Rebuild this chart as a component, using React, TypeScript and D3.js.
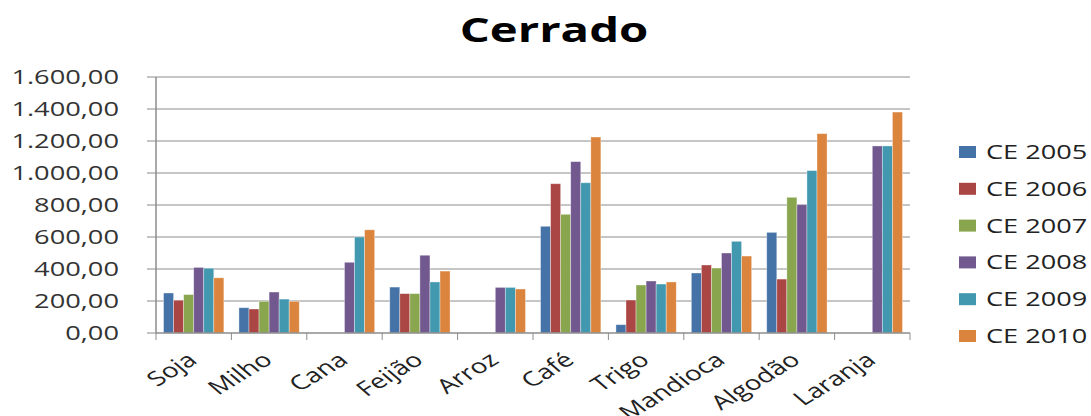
import React from "react";
import * as d3 from "d3";

// Crop categories along the x axis
const categories = ["Soja", "Milho", "Cana", "Feijão", "Arroz", "Café", "Trigo", "Mandioca", "Algodão", "Laranja"];

// One series per year (null = no value for that crop)
const seriesNames = ["CE 2005", "CE 2006", "CE 2007", "CE 2008", "CE 2009", "CE 2010"];
const ce2005 = [250, 158, null, 287, null, 667, 52, 375, 629, null];
const ce2006 = [205, 150, null, 246, null, 933, 206, 425, 337, null];
const ce2007 = [240, 198, null, 246, null, 742, 300, 406, 848, null];
const ce2008 = [410, 256, 442, 486, 285, 1071, 325, 500, 802, 1169];
const ce2009 = [405, 212, 600, 319, 285, 939, 306, 573, 1015, 1169];
const ce2010 = [345, 198, 645, 387, 275, 1225, 319, 481, 1246, 1381];
const seriesValues = [ce2005, ce2006, ce2007, ce2008, ce2009, ce2010];

const yTicks = [0, 200, 400, 600, 800, 1000, 1200, 1400, 1600];

const colors = ["#4572A7", "#AA4643", "#89A54E", "#71588F", "#4198AF", "#DB843D"];

const W = 1091;
const H = 416;
const plot = { left: 156, right: 910, top: 77, bottom: 333 };
const SX = 1.39; // horizontal text stretch
const FONT = "'Open Sans', sans-serif";

const fmt = (v: number) => {
  const s = v.toFixed(2).replace(".", ",");
  const [i, d] = s.split(",");
  return i.replace(/\B(?=(\d{3})+(?!\d))/g, ".") + "," + d;
};

export default function App() {
  const x0 = d3.scaleBand<string>().domain(categories).range([plot.left, plot.right]).padding(0);
  const bw = x0.bandwidth();
  const gap = bw * 1.5 / 7.5;
  const x1 = d3.scaleBand<string>().domain(seriesNames).range([gap / 2, bw - gap / 2]).padding(0);
  const y = d3.scaleLinear().domain([0, 1600]).range([plot.bottom, plot.top]);

  const legendY = d3.scalePoint<string>().domain(seriesNames).range([152, 336]);

  return (
    <svg width={W} height={H} style={{ position: "absolute", left: 0, top: 0, background: "#fff" }} fontFamily={FONT}>
      {/* title */}
      <text transform={`translate(554,42) scale(${SX},1)`} textAnchor="middle" fontSize={34} fontWeight="bold" fill="#000">
        Cerrado
      </text>

      {/* gridlines and y axis */}
      {yTicks.map((t) => (
        <g key={t}>
          {t > 0 && <line x1={plot.left} x2={plot.right} y1={y(t)} y2={y(t)} stroke="#8c8c8c" strokeWidth={1} />}
          <line x1={plot.left - 9} x2={plot.left} y1={y(t)} y2={y(t)} stroke="#8c8c8c" strokeWidth={1} />
          <text transform={`translate(119,${y(t)}) scale(${SX},1)`} textAnchor="end" dy="0.36em" fontSize={19.6} fill="#333">
            {fmt(t)}
          </text>
        </g>
      ))}
      <line x1={plot.left} x2={plot.left} y1={plot.top} y2={plot.bottom} stroke="#8c8c8c" strokeWidth={1.5} />

      {/* bars */}
      {categories.map((c, ci) => (
        <g key={c} transform={`translate(${x0(c)},0)`}>
          {seriesNames.map((s, si) => {
            const v = seriesValues[si][ci];
            if (v == null) return null;
            return (
              <rect
                key={s}
                x={x1(s)}
                y={y(v)}
                width={x1.bandwidth()}
                height={y(0) - y(v)}
                fill={colors[si]}
                stroke="rgba(255,255,255,0.45)"
                strokeWidth={0.8}
              />
            );
          })}
        </g>
      ))}

      {/* x axis */}
      <line x1={plot.left} x2={plot.right} y1={plot.bottom} y2={plot.bottom} stroke="#8c8c8c" strokeWidth={1.5} />
      {[...categories.map((c) => x0(c) as number), plot.right].map((px, i) => (
        <line key={i} x1={px} x2={px} y1={plot.bottom} y2={plot.bottom + 7} stroke="#8c8c8c" strokeWidth={1} />
      ))}
      {categories.map((c) => {
        const cx = (x0(c) as number) + bw / 2;
        return (
          <text
            key={c}
            transform={`translate(${cx + 5},${plot.bottom + 29}) scale(${SX},1) rotate(-40)`}
            textAnchor="end"
            fontSize={20}
            fill="#222"
          >
            {c}
          </text>
        );
      })}

      {/* legend */}
      {seriesNames.map((s, i) => {
        const ly = legendY(s) as number;
        return (
          <g key={s}>
            <rect x={959} y={ly - 6} width={17} height={12} fill={colors[i]} />
            <text transform={`translate(986,${ly}) scale(${SX},1)`} dy="0.36em" fontSize={19.5} fill="#222">
              {s}
            </text>
          </g>
        );
      })}
    </svg>
  );
}
